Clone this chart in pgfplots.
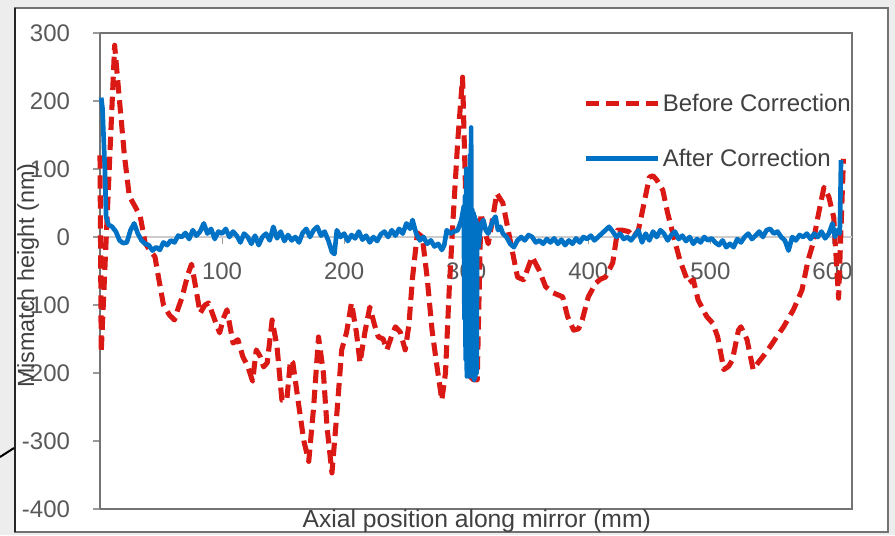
\documentclass[border=0pt]{standalone}
\usepackage{pgfplots}
\pgfplotsset{compat=1.18}
\usepackage{pgfplotstable}
\usepackage{fontspec}
\setmainfont{Liberation Sans}
\definecolor{redline}{RGB}{218,24,20}
\definecolor{blueline}{RGB}{0,114,198}
\definecolor{ticktext}{RGB}{89,89,89}
\definecolor{labeltext}{RGB}{64,64,64}

\pgfplotstableread{
x y
0 120
1 -170
12 282
16 200
20 120
24 60
29 44
33 30
37 -9
41 -20
45 -29
48 -60
52 -100
57 -115
61 -122
64 -105
67 -90
72 -55
75 -40
78 -70
82 -112
86 -100
89 -97
94 -122
98 -141
101 -120
104 -107
109 -156
113 -151
117 -176
121 -190
125 -212
128 -166
131 -175
134 -191
137 -185
141 -122
145 -161
149 -240
153 -240
156 -181
158 -185
163 -250
167 -300
171 -330
175 -250
179 -147
183 -200
186 -280
190 -347
194 -260
198 -166
202 -140
206 -97
210 -140
213 -185
217 -140
221 -103
225 -130
228 -147
232 -150
235 -166
239 -145
242 -132
246 -140
250 -166
253 -130
256 -60
260 6
264 0
268 -60
272 -137
276 -190
280 -240
283 -200
286 -80
289 20
293 140
297 235
300 30
303 -205
306 -210
309 -210
312 35
315 10
318 -10
321 20
325 64
330 50
336 -5
342 -59
347 -63
354 -29
360 -50
365 -73
371 -82
379 -88
383 -117
388 -137
392 -135
395 -122
400 -88
406 -68
410 -62
414 -59
420 -38
424 10
428 10
433 8
437 0
441 10
445 44
450 88
453 90
456 84
461 69
465 35
470 0
475 -34
482 -68
486 -63
490 -93
497 -117
502 -127
506 -147
511 -195
515 -190
518 -181
523 -137
525 -132
530 -151
535 -195
539 -185
543 -176
549 -161
555 -145
560 -132
568 -107
575 -78
580 -34
584 -10
588 29
593 73
597 59
601 29
605 -90
609 115
}\before

\pgfplotstableread{
x y
1 205
2 190
4 100
5 30
7 18
10 15
13 8
16 -5
19 -9
22 -8
25 10
28 20
31 5
34 -5
37 -10
40 -12
43 -20
46 -15
49 -19
52 -8
55 -12
58 -5
61 -8
64 2
67 0
70 6
73 -3
76 10
79 2
82 8
85 20
88 5
91 12
94 -3
97 8
100 5
103 12
106 0
109 8
112 2
115 -8
118 5
121 0
124 -10
127 2
130 -12
133 0
136 5
139 -5
142 15
145 -2
148 8
151 -6
154 3
157 -5
160 0
163 -8
166 6
169 12
172 0
175 10
178 15
181 2
184 8
187 -5
190 -22
192 -25
194 10
197 0
200 5
203 -6
206 3
209 -2
212 8
215 -4
218 2
221 -8
224 0
227 -6
230 4
233 8
236 0
239 10
242 2
245 12
248 5
251 20
254 12
256 25
259 5
262 -5
265 0
268 -10
271 -5
274 -14
277 -10
280 -19
282 -12
284 10
287 5
290 8
293 10
296 25
298 45
298.5 -120
299 60
299.5 -180
300 100
300.5 -205
301 50
301.5 -200
302 70
302.5 -205
303 120
303.5 -200
304 161
304.5 -205
305 40
305.5 -200
306 35
306.5 -210
307 30
307.5 -205
308 25
308.5 -200
309 20
310 -15
312 18
314 25
316 10
318 5
320 15
322 25
324 30
326 10
328 15
330 5
333 0
336 -10
339 -15
342 -5
345 0
348 -5
351 3
354 0
357 -8
360 -5
363 -10
366 -3
369 -8
372 -2
375 -10
378 -4
381 -12
384 -5
387 -10
390 -2
393 -8
396 0
399 -3
402 2
405 -5
408 0
411 5
414 10
417 15
420 8
423 0
426 5
429 -3
432 0
435 -5
438 2
441 10
444 -8
447 5
450 -5
453 8
456 0
459 10
462 5
465 -5
468 3
471 8
474 -3
477 2
480 -6
483 0
486 -10
489 -3
492 -8
495 0
498 -5
501 -2
504 -8
507 -12
510 -5
513 -15
516 -10
519 -15
522 -3
525 -8
528 0
531 5
534 -3
537 2
540 8
543 0
546 10
549 12
552 5
555 8
558 0
561 -5
564 -20
567 0
570 -5
573 3
576 0
579 5
582 -3
585 5
588 0
591 8
594 -2
597 5
600 20
602 0
604 10
606 5
607 113
}\after

\begin{document}
\begin{tikzpicture}
\fill[black!7] (-75pt,-19.5pt) rectangle (596.25pt,381.75pt);
\fill[white] (-63.75pt,-17.25pt) rectangle (591pt,375.75pt);
\draw[black!55, line width=1pt] (-63.75pt,-17.25pt) rectangle (591pt,375.75pt);
\draw[black!85, line width=1.5pt] (-63.75pt,-17.25pt) -- (-63.75pt,375.75pt);
\draw[black, line width=1.5pt] (-75pt,39pt) -- (-64.5pt,45.75pt);
\begin{axis}[
  at={(0pt,0pt)}, anchor=south west,
  width=564pt, height=357pt, scale only axis,
  xmin=0, xmax=616, ymin=-400, ymax=300,
  axis x line*=middle, axis y line*=left,
  axis background/.style={draw=black!55, line width=1.6pt, fill=white},
  x axis line style={black!20, line width=1.2pt},
  y axis line style={black!55, line width=1.6pt},
  xtick={0,100,200,300,400,500,600},
  xticklabels={0,100,200,300,400,500,600},
  ytick={-400,-300,-200,-100,0,100,200,300},
  yticklabels={-400,-300,-200,-100,0,100,200,300},
  tick align=outside,
  major tick length=5pt,
  tick style={black!40, line width=0.8pt},
  font=\fontsize{18}{21}\selectfont,
  ticklabel style={text=ticktext, font=\fontsize{18}{21}\selectfont},
  xticklabel style={yshift=-11pt},
  yticklabel style={xshift=-14pt},
  xlabel={Axial position along mirror (mm)},
  ylabel={Mismatch height (nm)},
  xlabel style={at={(axis description cs:0.501,-0.025)}, anchor=center, text=labeltext, font=\fontsize{18.5}{21}\selectfont},
  ylabel style={at={(axis description cs:-0.0957,0.49)}, anchor=center, text=labeltext, font=\fontsize{17.5}{21}\selectfont},
  legend style={at={(axis description cs:0.642,0.878)}, anchor=north west, draw=none, fill=none, inner sep=0pt, row sep=22.5pt, font=\fontsize{18}{21}\selectfont, text=labeltext, nodes={inner sep=2pt}, /tikz/every odd column/.style={column sep=0pt}},
  legend image code/.code={\draw[#1] (0pt,0pt) -- (54pt,0pt);},
  legend cell align=left,
  clip=false,
]
\addplot[redline, line width=3.8pt, dash pattern=on 10pt off 5pt, line join=round] table[x=x,y=y] {\before};
\addlegendentry{Before Correction}
\addplot[blueline, line width=3.5pt, line join=round] table[x=x,y=y] {\after};
\addlegendentry{After Correction}
\end{axis}
\pgfresetboundingbox
\path (-75pt,-19.5pt) rectangle (596.25pt,381.75pt);
\end{tikzpicture}
\end{document}
